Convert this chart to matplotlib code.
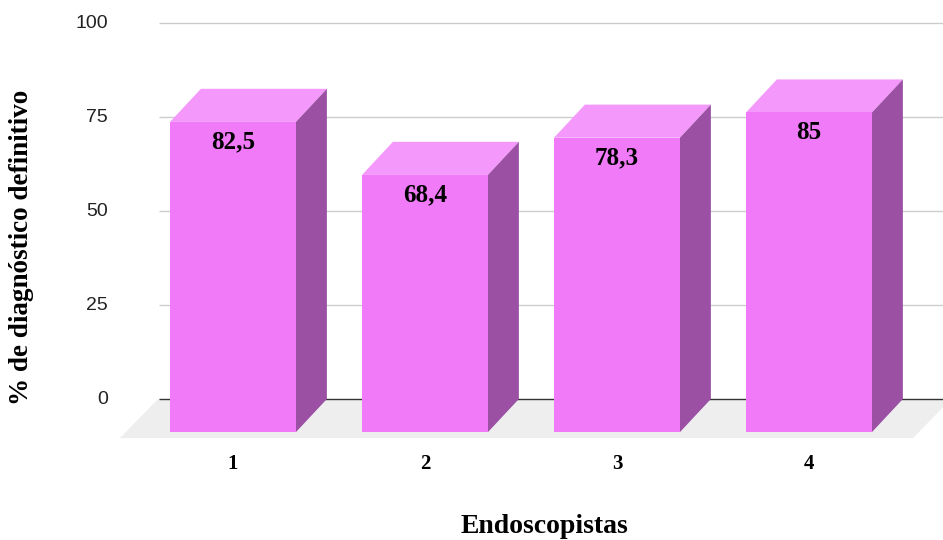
"""3D-style bar chart: percentage of definitive diagnosis per endoscopist."""

import matplotlib
matplotlib.use("Agg")
import matplotlib.pyplot as plt
from matplotlib.patches import Polygon

# --- data ---
categories = ["1", "2", "3", "4"]
values = [82.5, 68.4, 78.3, 85]
value_labels = ["82,5", "68,4", "78,3", "85"]
y_ticks = [0, 25, 50, 75, 100]

# --- style ---
FRONT = "#F07AF8"
TOP = "#F498FC"
SIDE = "#9C50A4"
FLOOR = "#EEEEEE"
GRID = "#CCCCCC"
ZERO = "#333333"
SERIF = "Liberation Serif"
SANS = "Liberation Sans"

# geometry in data units (x: category spacing, y: percent)
BAR_W = 0.656
DEPTH_X = 0.161
DEPTH_Y = 8.8

fig = plt.figure(figsize=(9.43, 5.4), dpi=100)
ax = fig.add_axes([0, 0, 1, 1])
ax.set_xlim(-1.2135, 3.698)
ax.set_ylim(-37.5, 106.12)
ax.axis("off")

# floor under the bars
floor_front = -10.4
floor = Polygon([(-0.589, floor_front), (3.542, floor_front),
                 (3.74, 0), (-0.39, 0)],
                closed=True, facecolor=FLOOR, edgecolor="none", zorder=1)
ax.add_patch(floor)

# gridlines on the back plane
grid_x0 = -0.385
for t in y_ticks:
    ax.hlines(t, grid_x0, 3.698, colors=ZERO if t == 0 else GRID,
              linewidth=1.0, zorder=2)
    ax.text(-0.651, t, str(t), ha="right", va="center",
            fontsize=14, family=SANS, color="#222222")

for i, (v, lab) in enumerate(zip(values, value_labels)):
    x0 = i - BAR_W / 2
    x1 = i + BAR_W / 2
    y0 = -DEPTH_Y
    y1 = v - DEPTH_Y
    front = Polygon([(x0, y0), (x1, y0), (x1, y1), (x0, y1)],
                    closed=True, facecolor=FRONT, edgecolor="none", zorder=5)
    top = Polygon([(x0, y1), (x1, y1), (x1 + DEPTH_X, v), (x0 + DEPTH_X, v)],
                  closed=True, facecolor=TOP, edgecolor="none", zorder=4)
    side = Polygon([(x1, y0), (x1 + DEPTH_X, 0), (x1 + DEPTH_X, v), (x1, y1)],
                   closed=True, facecolor=SIDE, edgecolor="none", zorder=4)
    for p in (front, top, side):
        ax.add_patch(p)
    ax.text(i, y1 - 5.4, lab, ha="center", va="center", fontsize=18,
            fontweight="bold", family=SERIF, zorder=6)
    ax.text(i, -17.2, categories[i], ha="center", va="center", fontsize=15,
            fontweight="bold", family=SERIF)

ax.text(1.62, -33.8, "Endoscopistas", ha="center", va="center",
        fontsize=20, fontweight="bold", family=SERIF)
ax.text(-1.099, 40.4, "% de diagnóstico definitivo", ha="center", va="center",
        rotation=90, fontsize=19.5, fontweight="bold", family=SERIF)

fig.savefig("out.png", dpi=100)
